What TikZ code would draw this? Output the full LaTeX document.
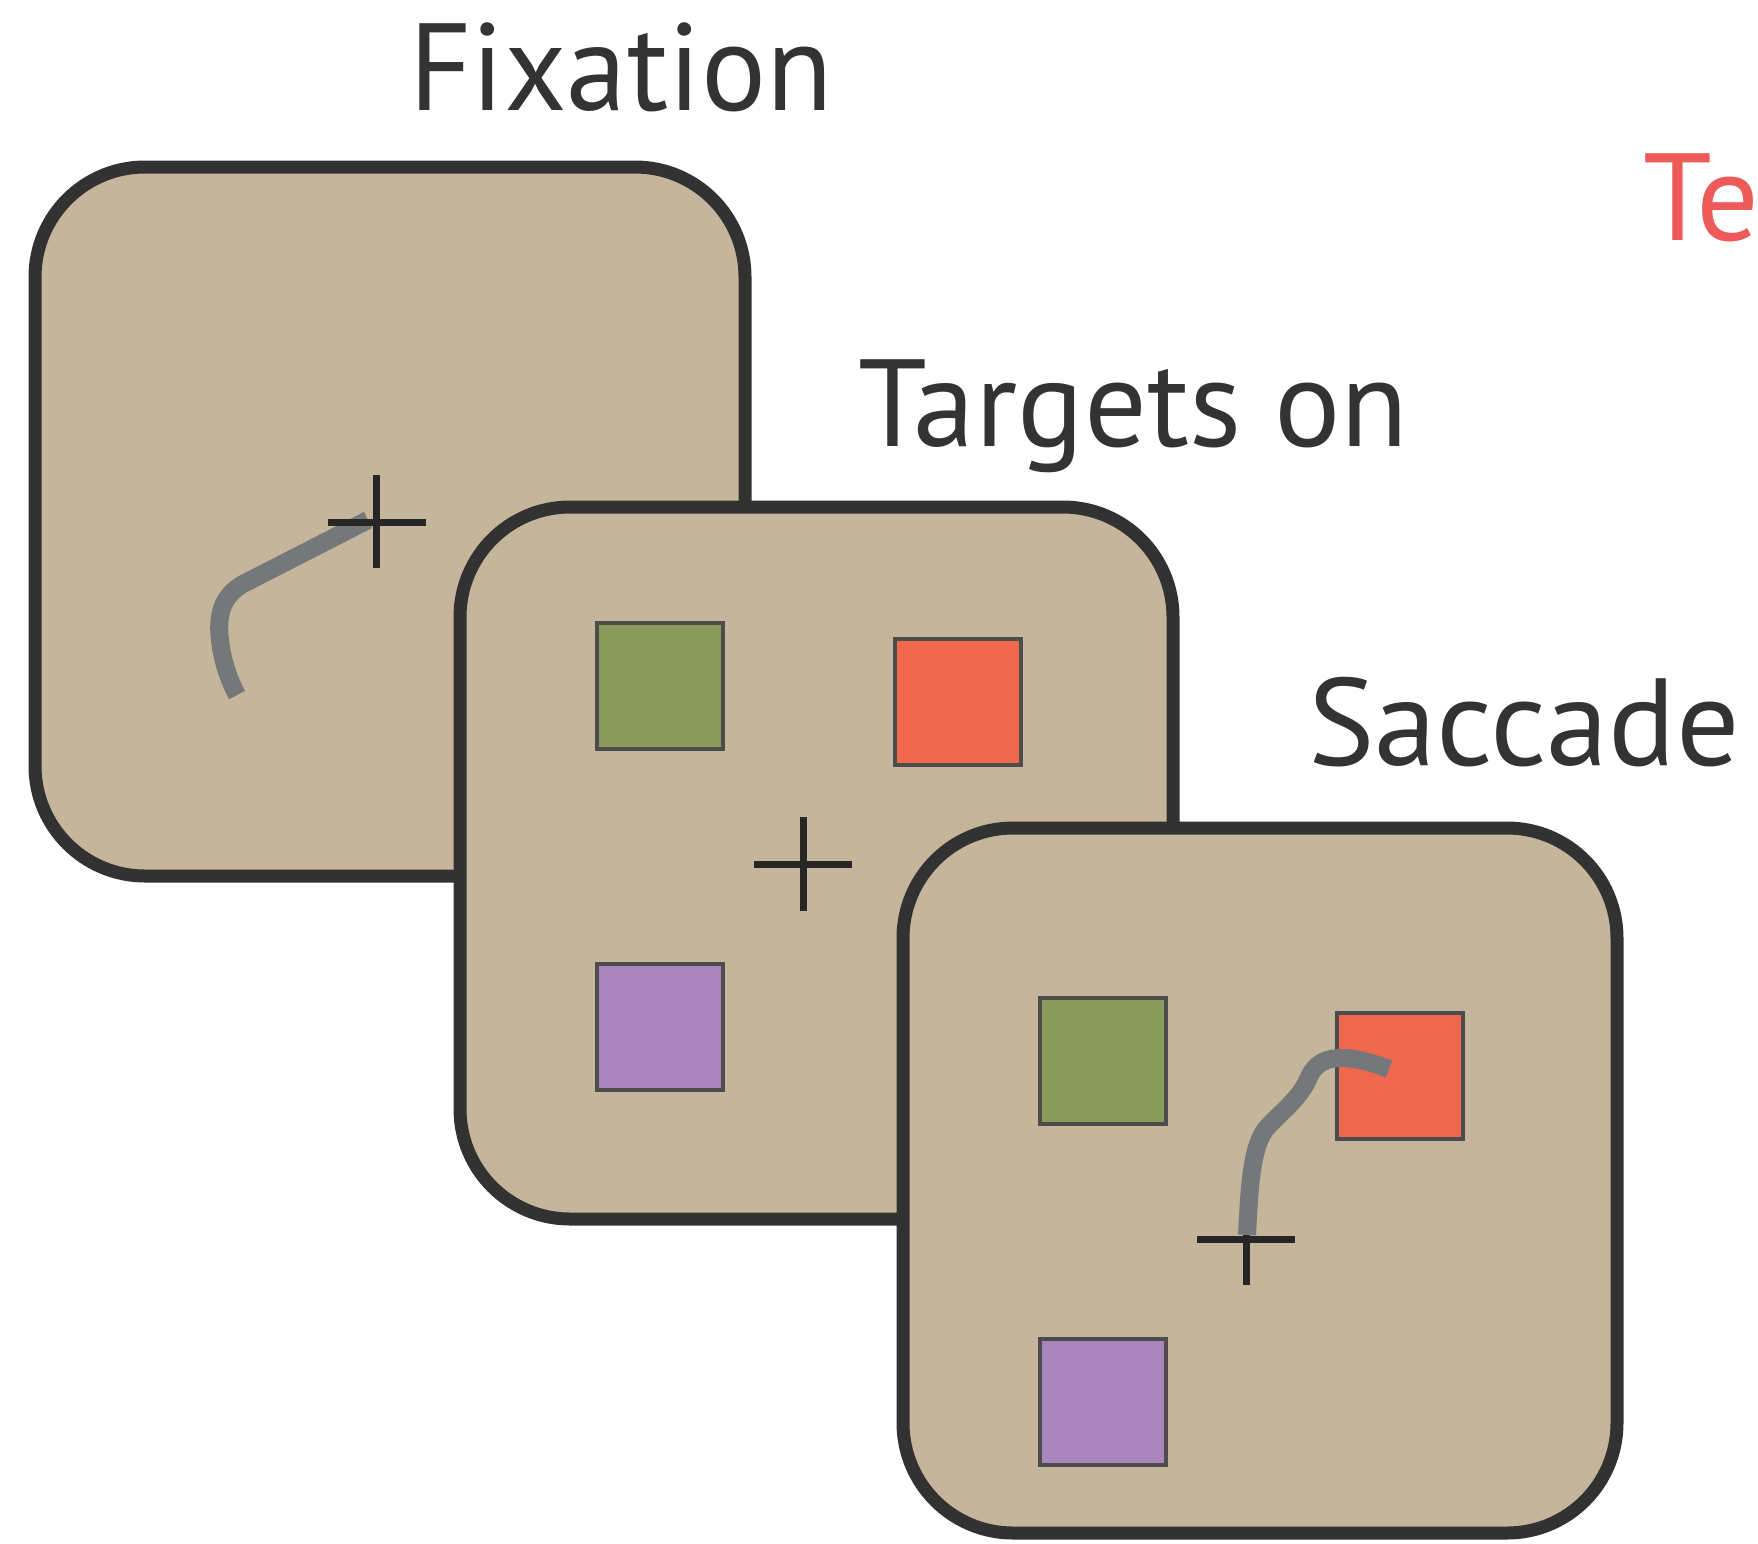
\documentclass[tikz,border=0pt]{standalone}
\usepackage{fontspec}
\setmainfont{PT Sans}
\usetikzlibrary{calc}
\definecolor{panelfill}{HTML}{C4B59B}
\definecolor{panelline}{HTML}{333233}
\definecolor{tgreen}{HTML}{8A9A5B}
\definecolor{tred}{HTML}{F0684E}
\definecolor{tpurple}{HTML}{AA85BB}
\definecolor{tracecol}{HTML}{75787B}
\definecolor{txt}{HTML}{333333}
\definecolor{redtxt}{HTML}{EE5A5A}
\tikzset{
  panel/.style={draw=panelline, fill=panelfill, line width=13pt, rounded corners=110pt, inner sep=0pt, outer sep=0pt},
  target/.style={draw=black!70, line width=4pt, inner sep=0pt, minimum width=126pt, minimum height=126pt, outer sep=0pt},
  crossline/.style={draw=black!85, line width=7pt},
  tracepath/.style={draw=tracecol, line width=18pt},
  label/.style={font=\fontsize{124}{130}\selectfont, text=txt, anchor=base west, inner sep=0pt, outer sep=0pt},
}
\begin{document}
\begin{tikzpicture}[x=1pt,y=-1pt]
\useasboundingbox (0,0) rectangle (1758,1543);
\clip (0,0) rectangle (1758,1543);
\fill[white] (0,0) rectangle (1758,1543);

% labels
\node[label] (lfix) at (409,110) {\scalebox{0.98}[1]{Fixation}};
\node[label] (ltar) at (858,446) {Targets on};
\node[label] (lsac) at (1308,765) {\scalebox{1.01}[1]{Saccade}};
\node[label, text=redtxt] (ltest) at (1643,240) {Test};

% panel 1
\node[panel, minimum width=710pt, minimum height=709pt] (p1) at (390,521.5) {};
\coordinate (c1) at (376,522);
\coordinate (s1) at (368,520);
\coordinate (e1) at (237,695);
\draw[tracepath] (s1) -- (243,584) .. controls (222,596) and (217,615) .. (220,640) .. controls (222,660) and (229,680) .. (e1);
\draw[crossline] ($(c1)+(-48,0)$) -- ($(c1)+(50,0)$);
\draw[crossline] ($(c1)+(0,-47)$) -- ($(c1)+(0,46)$);

% panel 2
\node[panel, minimum width=713pt, minimum height=712pt] (p2) at (816.5,863) {};
\node[target, fill=tgreen] (g2) at (659.5,686) {};
\node[target, fill=tred] (r2) at (957.5,702) {};
\node[target, fill=tpurple] (v2) at (659.5,1026.5) {};
\coordinate (c2) at (803,864);
\draw[crossline] ($(c2)+(-49,0)$) -- ($(c2)+(49,0)$);
\draw[crossline] ($(c2)+(0,-47)$) -- ($(c2)+(0,47)$);

% panel 3
\node[panel, minimum width=714pt, minimum height=705pt] (p3) at (1260,1180.5) {};
\node[target, fill=tgreen] (g3) at (1103,1060.5) {};
\node[target, fill=tred] (r3) at (1399.5,1076) {};
\node[target, fill=tpurple] (v3) at (1103,1401.5) {};
\coordinate (c3) at (1246,1239);
\draw[crossline] ($(c3)+(-49,0)$) -- ($(c3)+(49,0)$);
\draw[crossline] ($(c3)+(0,-46)$) -- ($(c3)+(0,46)$);
\coordinate (s3) at (1247,1235);
\coordinate (e3) at (1389,1069);
\draw[tracepath] (s3) .. controls (1249,1200) and (1250,1150) .. (1265,1130)
  .. controls (1280,1112) and (1300,1100) .. (1310,1075)
  .. controls (1320,1055) and (1345,1052) .. (e3);
\end{tikzpicture}
\end{document}
